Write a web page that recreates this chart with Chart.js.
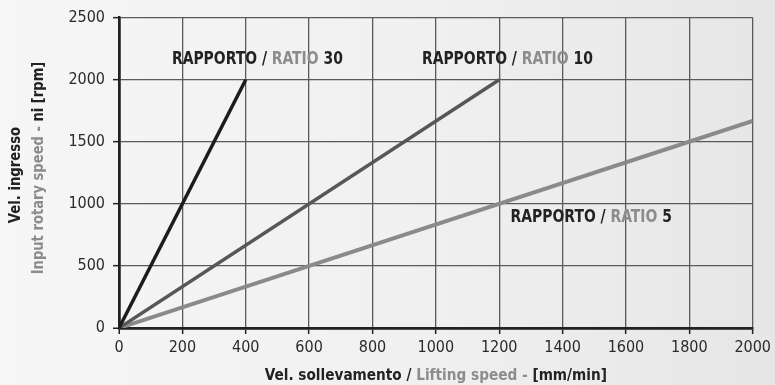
<!DOCTYPE html>
<html>
<head>
<meta charset="utf-8">
<script src="https://cdn.jsdelivr.net/npm/chart.js@4/dist/chart.umd.min.js"></script>
<style>
  html, body { margin: 0; padding: 0; }
  body {
    width: 775px; height: 385px; overflow: hidden;
    background: linear-gradient(to right, #f6f6f6 0%, #f0f0f0 55%, #e6e6e6 100%);
  }
  #wrap { position: relative; width: 775px; height: 385px; }
  canvas { display: block; }
</style>
</head>
<body>
<div id="wrap"><canvas id="chart" width="775" height="385"></canvas></div>
<script>
// Lifting speed [mm/min] vs input rotary speed [rpm] for each reduction ratio
const ratioNames = ['30', '10', '5'];
const liftSpeed30 = [0, 400];
const rpm30 = [0, 2000];
const liftSpeed10 = [0, 1200];
const rpm10 = [0, 2000];
const liftSpeed5 = [0, 2000];
const rpm5 = [0, 1667];

const xTicks = [0, 200, 400, 600, 800, 1000, 1200, 1400, 1600, 1800, 2000];
const yTicks = [0, 500, 1000, 1500, 2000, 2500];

// Where each ratio label sits, in data units (left edge, vertical centre)
const labelX = [167, 956, 1236];
const labelY = [2160, 2160, 889];

const DARK = '#222222';
const GREY = '#8c8c8c';
const FONT = "'DejaVu Sans Condensed', 'DejaVu Sans', sans-serif";

function pts(xs, ys) { return xs.map((x, i) => ({ x: x, y: ys[i] })); }

// Draws a run of differently coloured text pieces, horizontally condensed by sx
function drawSegments(ctx, segs, x, y, align, sx) {
  let total = 0;
  segs.forEach(s => { total += ctx.measureText(s[0]).width; });
  ctx.save();
  ctx.translate(x, y);
  ctx.scale(sx, 1);
  let cx = align === 'center' ? -total / 2 : 0;
  ctx.textAlign = 'left';
  segs.forEach(s => {
    ctx.fillStyle = s[1];
    ctx.fillText(s[0], cx, 0);
    cx += ctx.measureText(s[0]).width;
  });
  ctx.restore();
}

const textPlugin = {
  id: 'ratioText',
  afterDatasetsDraw(chart) {
    const ctx = chart.ctx;
    const xs = chart.scales.x, ys = chart.scales.y;
    const area = chart.chartArea;
    ctx.save();
    ctx.textBaseline = 'middle';
    ctx.font = 'bold 18px ' + FONT;
    ratioNames.forEach((r, i) => {
      drawSegments(ctx, [['RAPPORTO / ', DARK], ['RATIO', GREY], [' ' + r, DARK]],
        xs.getPixelForValue(labelX[i]), ys.getPixelForValue(labelY[i]), 'left', 0.86);
    });
    // x axis title
    ctx.font = 'bold 16.5px ' + FONT;
    drawSegments(ctx, [['Vel. sollevamento / ', DARK], ['Lifting speed - ', GREY], ['[mm/min]', DARK]],
      (area.left + area.right) / 2, 376, 'center', 0.92);
    // y axis title (two rotated lines)
    ctx.translate(0, 0);
    ctx.rotate(-Math.PI / 2);
    ctx.font = 'bold 16px ' + FONT;
    drawSegments(ctx, [['Vel. ingresso', DARK]], -175, 16, 'center', 0.92);
    drawSegments(ctx, [['Input rotary speed - ', GREY], ['ni [rpm]', DARK]], -168, 39, 'center', 0.91);
    ctx.restore();
  }
};

const gridColor = '#5a5a5a';
const zeroLine = ctx => ctx.tick && ctx.tick.value === 0;

new Chart(document.getElementById('chart'), {
  type: 'line',
  data: {
    datasets: [
      { label: 'RATIO 30', data: pts(liftSpeed30, rpm30), borderColor: '#1c1c1c', borderWidth: 3.5 },
      { label: 'RATIO 10', data: pts(liftSpeed10, rpm10), borderColor: '#575757', borderWidth: 3.5 },
      { label: 'RATIO 5', data: pts(liftSpeed5, rpm5), borderColor: '#8a8a8a', borderWidth: 4 }
    ]
  },
  options: {
    responsive: false,
    animation: false,
    events: [],
    layout: { padding: { top: 16, right: 20, left: 0, bottom: 0 } },
    elements: { point: { radius: 0 }, line: { tension: 0 } },
    plugins: { legend: { display: false }, tooltip: { enabled: false } },
    scales: {
      x: {
        type: 'linear', min: 0, max: 2000,
        afterFit(s) { s.height = 57; },
        afterBuildTicks(s) { s.ticks = xTicks.map(v => ({ value: v })); },
        grid: {
          color: c => zeroLine(c) ? '#111' : gridColor,
          lineWidth: c => zeroLine(c) ? 2.5 : 1.3,
          tickColor: '#222', tickLength: 6, tickWidth: 1.5
        },
        border: { color: '#222', width: 2.5 },
        ticks: {
          color: '#2a2a2a', padding: 4, maxRotation: 0,
          font: { family: FONT, size: 16 },
          callback: v => String(v)
        }
      },
      y: {
        type: 'linear', min: 0, max: 2500,
        afterFit(s) { s.width = 119; },
        afterBuildTicks(s) { s.ticks = yTicks.map(v => ({ value: v })); },
        grid: {
          color: c => zeroLine(c) ? '#111' : gridColor,
          lineWidth: c => zeroLine(c) ? 2.5 : 1.3,
          tickColor: '#222', tickLength: 6, tickWidth: 1.5
        },
        border: { color: '#222', width: 2.5 },
        ticks: {
          color: '#2a2a2a', padding: 8,
          font: { family: FONT, size: 16 },
          callback: v => String(v)
        }
      }
    }
  },
  plugins: [textPlugin]
});
</script>
</body>
</html>
